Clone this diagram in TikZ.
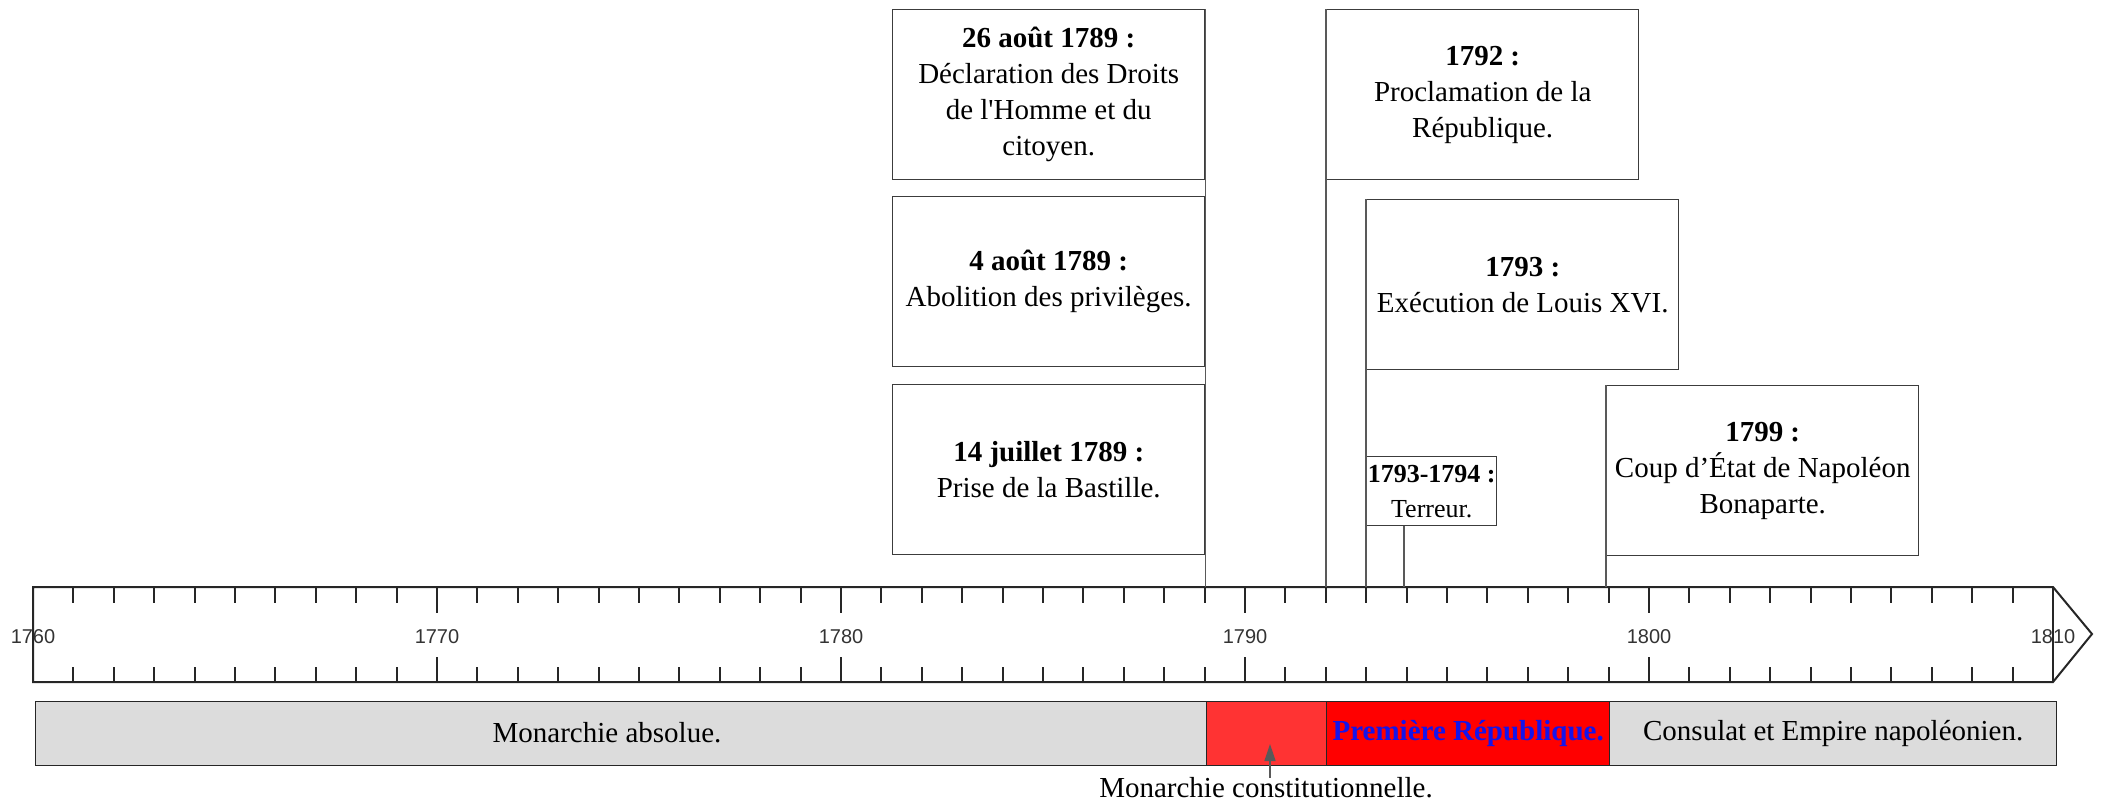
\documentclass[tikz,border=0pt]{standalone}
\usepackage{fontspec}
\setmainfont{Liberation Serif}[Ligatures=TeXOff]
\newfontfamily\axisfont{Liberation Sans}
\usetikzlibrary{arrows.meta}
\definecolor{bargray}{RGB}{220,220,220}
\definecolor{constred}{RGB}{255,51,51}
\definecolor{repred}{RGB}{255,0,0}
\definecolor{repblue}{RGB}{20,20,235}
\definecolor{edge}{RGB}{60,60,60}
\begin{document}
\begin{tikzpicture}[x=1pt,y=-1pt,
  evbox/.style={draw=edge, line width=1.4pt, fill=white, minimum width=312pt,
    minimum height=170pt, align=center, inner sep=0pt, anchor=north west,
    font=\fontsize{29}{36}\selectfont},
  conn/.style={draw=edge!85, line width=1.4pt},
  axisline/.style={draw=black!85, line width=2pt},
  tickline/.style={draw=black!85, line width=2pt},
  yearlbl/.style={font=\axisfont\fontsize{20}{24}\selectfont, text=black!80, inner sep=0pt},
  period/.style={draw=black!85, line width=1.4pt, anchor=north west, minimum height=64pt,
    inner sep=0pt, font=\fontsize{29}{32}\selectfont},
]
\useasboundingbox (0,0) rectangle (2102,804);

% axis
\coordinate (axtop) at (33,587);
\draw[axisline] (33,587) -- (2053,587) -- (2092,634) -- (2053,682) -- (33,682) -- cycle;
\draw[axisline] (2053,587) -- (2053,682);
\foreach \i in {1,...,49}{
  \pgfmathsetmacro{\xx}{33+\i*40.4}
  \pgfmathtruncatemacro{\r}{mod(\i,10)}
  \ifnum\r=0
    \draw[tickline] (\xx,587) -- (\xx,613);
    \draw[tickline] (\xx,682) -- (\xx,657);
  \else
    \draw[tickline] (\xx,587) -- (\xx,603);
    \draw[tickline] (\xx,682) -- (\xx,667);
  \fi
}
\foreach \yr [count=\k from 0] in {1760,1770,1780,1790,1800,1810}{
  \node[yearlbl] (y\yr) at (33+\k*404,637) {\yr};
}

% event boxes
\node[evbox] (b26) at (892,9) {\textbf{26 août 1789 :}\\Déclaration des Droits\\de l'Homme et du\\citoyen.};
\node[evbox] (b4) at (892,196) {\textbf{4 août 1789 :}\\Abolition des privilèges.};
\node[evbox] (b14) at (892,384) {\textbf{14 juillet 1789 :}\\Prise de la Bastille.};
\node[evbox] (b92) at (1326,9) {\textbf{1792 :}\\Proclamation de la\\République.};
\node[evbox] (b93) at (1366,199) {\textbf{1793 :}\\Exécution de Louis XVI.};
\node[evbox, minimum width=130pt, minimum height=69pt, font=\fontsize{26}{35}\selectfont] (bter) at (1366,456) {\textbf{1793-1794 :}\\Terreur.};
\node[evbox] (b99) at (1606,385) {\textbf{1799 :}\\Coup d’État de Napoléon\\Bonaparte.};

% connectors
\coordinate (t94) at (1404,587);
\draw[conn] (b26.north east) -- (b26.north east |- axtop);
\draw[conn] (b92.north west) -- (b92.north west |- axtop);
\draw[conn] (b93.north west) -- (b93.north west |- axtop);
\draw[conn] (bter.south -| t94) -- (t94);
\draw[conn] (b99.north west) -- (b99.north west |- axtop);

% periods
\node[period, fill=bargray, minimum width=1171pt] (pabs) at (35,701) {};
\node[font=\fontsize{29}{32}\selectfont, inner sep=0pt] (tabs) at (607,733) {Monarchie absolue.};
\node[period, fill=constred, minimum width=120pt] (pcon) at (1206,701) {};
\node[period, fill=repred, minimum width=283pt, text=repblue, font=\bfseries\fontsize{29}{32}\selectfont] (prep) at (1326,701) {Première République.};
\node[period, fill=bargray, minimum width=447pt] (pemp) at (1609,701) {Consulat et Empire napoléonien.};

% label for constitutional monarchy
\node[font=\fontsize{29}{32}\selectfont, inner sep=0pt] (mclab) at (1266,788) {Monarchie constitutionnelle.};
\coordinate (mcpt) at (1270,744);
\draw[draw=edge!85, line width=1.4pt, -{Triangle[length=17pt,width=11pt]}] (mclab.north -| mcpt) -- (mcpt);
\end{tikzpicture}
\end{document}
